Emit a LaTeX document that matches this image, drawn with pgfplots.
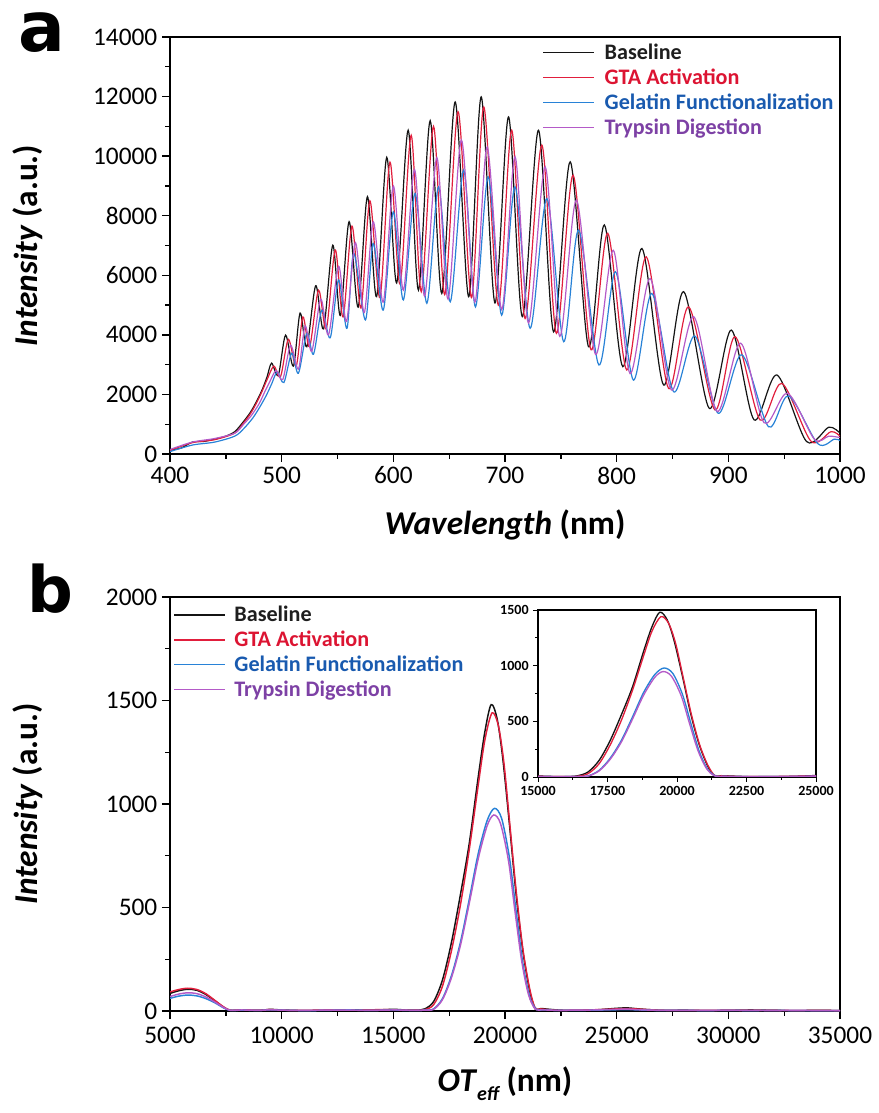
\documentclass[border=0pt]{standalone}
\usepackage{fontspec}
\setmainfont{Carlito}
\newfontfamily\panelfont{DejaVu Sans}
\usepackage{pgfplots}
\pgfplotsset{compat=1.18}
\usepackage{pgfplotstable}

\definecolor{cBase}{RGB}{20,20,20}
\definecolor{cGTA}{RGB}{225,30,60}
\definecolor{cGel}{RGB}{40,130,215}
\definecolor{cTry}{RGB}{180,90,200}
\definecolor{tBase}{RGB}{30,30,30}
\definecolor{tGTA}{RGB}{220,20,50}
\definecolor{tGel}{RGB}{25,90,175}
\definecolor{tTry}{RGB}{125,65,165}

% ---------- panel a : spectra ----------
\pgfplotstableread{
x y
400 130
410 200
420 400
430 420
440 500
450 600
458 750
465 1050
472 1400
478 1800
483 2200
487 2600
491 3050
497 2650
503.5 3990
510.5 2950
516.5 4730
522.5 3600
530.5 5650
537.5 4200
545.8 7010
552.5 4650
560.4 7800
568.5 4930
576.8 8640
585 5280
594.1 9960
603 5740
613.3 10870
622.5 5500
633 11190
643.4 5390
655.4 11820
667.5 5280
678.7 11990
691 5070
703.2 11320
715.5 4610
730 10870
743.5 4100
758.4 9810
774.8 3600
789 7690
805.5 2930
822.6 6900
842 2315
860 5450
883 1530
902.7 4160
923 1150
943.6 2650
970 420
990 900
1000 700
}\tblA

\pgfplotstableread{
x y
400 120
420 380
440 480
458 700
465 1000
472 1350
478 1750
483 2150
487 2500
493 2950
499 2600
506 3850
513 2950
519 4600
525 3600
533 5500
540 4200
548 6850
555 4600
563 7650
571 4900
579 8500
588 5250
597 9800
606 5700
616 10700
625 5450
636 11000
646 5350
658 11490
670 5250
681 11650
694 5000
706 10870
718 4550
733 10370
746 4050
761 9360
777 3500
792 7410
809 2820
826.5 6620
846.5 2200
864.5 4940
888 1480
906 3940
928.5 1140
948 2370
974 430
992 750
1000 600
}\tblB

\pgfplotstableread{
x y
400 80
420 300
440 400
458 600
466 850
474 1200
480 1550
486 1950
491 2350
496 2750
502 2400
509 3380
515 2710
522.5 4050
528.5 3350
536 4830
543.5 3900
551 5840
558.5 4220
564.5 6740
575 4500
582 7070
591 4830
600 8130
609 5170
619.5 8750
630 5060
640.5 8970
651 5110
663 9530
673.5 4940
685 9300
697 4660
709 8970
722.5 4220
737.5 8580
752.5 3770
766 7520
784 2990
799 6120
815 2480
831.5 5390
851 2090
870 3960
891 1365
912 3330
936 915
954 1950
980 350
995 500
1000 450
}\tblC

\pgfplotstableread{
x y
400 150
420 400
440 520
458 700
466 1000
473 1300
480 1700
485 2100
489 2400
495 2800
501 2500
508 3650
515 2850
521 4300
527 3450
535 5200
542 4000
551 6300
558 4450
566 7100
574 4750
582 7800
591 5100
600 9000
609 5500
619 9550
628 5300
639 9950
649 5200
661 10540
673 5100
684 10310
697 4850
709 9980
721 4400
736 9640
749 3950
764 8520
781 3350
797 6840
812 2700
830 5890
849 2150
869 4610
890 1430
911 3720
932 1050
953 2040
977 500
990 600
1000 550
}\tblD

% ---------- panel b : FFT ----------
\pgfplotstableread{
x y
5000 85
5400 98
5800 105
6200 100
6600 80
7000 50
7400 18
7700 3
8200 5
9000 3
9500 8
10000 5
11000 2
12000 4
13000 6
14000 4
15000 8
15500 5
16000 4
16400 10
16800 45
17200 150
17600 330
18000 560
18400 810
18800 1130
19100 1350
19380 1480
19650 1410
19900 1220
20200 900
20500 560
20800 290
21100 100
21350 10
21600 12
22000 8
22500 4
23000 3
24000 5
25000 13
25500 15
26000 10
27000 3
28000 4
29000 2
30000 3
31000 5
32000 3
33000 2
34000 3
35000 2
}\tbA

\pgfplotstableread{
x y
5000 92
5400 104
5800 110
6200 104
6600 84
7000 52
7400 20
7700 4
8200 6
9000 4
9500 7
10000 4
11000 3
12000 5
13000 4
14000 6
15000 6
15500 4
16000 5
16400 6
16800 30
17200 120
17600 290
18000 510
18400 780
18800 1090
19100 1310
19420 1440
19700 1380
19950 1200
20200 920
20500 580
20800 300
21100 110
21350 15
21600 10
22000 6
22500 3
23000 4
24000 6
25000 10
25500 12
26000 9
27000 4
28000 3
29000 3
30000 4
31000 3
32000 4
33000 2
34000 3
35000 2
}\tbB

\pgfplotstableread{
x y
5000 61
5400 72
5800 77
6200 73
6600 60
7000 40
7400 15
7700 3
8200 4
9000 3
9500 6
10000 4
11000 2
12000 3
13000 5
14000 3
15000 5
15500 3
16000 3
16400 4
16800 10
17200 60
17600 170
18000 330
18400 540
18800 760
19200 920
19530 979
19850 930
20200 740
20500 480
20800 230
21100 70
21400 8
21700 6
22000 4
22500 3
23000 3
24000 4
25000 6
25500 7
26000 5
27000 3
28000 3
29000 2
30000 3
31000 2
32000 3
33000 2
34000 2
35000 2
}\tbC

\pgfplotstableread{
x y
5000 70
5400 82
5800 88
6200 84
6600 68
7000 44
7400 17
7700 3
8200 5
9000 3
9500 6
10000 4
11000 3
12000 4
13000 4
14000 3
15000 5
15500 4
16000 3
16400 4
16800 8
17200 55
17600 160
18000 315
18400 520
18800 735
19200 895
19500 947
19800 905
20150 730
20450 480
20750 240
21050 80
21350 10
21700 6
22000 4
22500 3
23000 4
24000 5
25000 8
25500 9
26000 6
27000 3
28000 3
29000 3
30000 3
31000 3
32000 2
33000 3
34000 2
35000 2
}\tbD

\pgfplotsset{
  myaxis/.style={
    scale only axis,
    axis line style={line width=1.1pt},
    tick pos=left,
    tick align=outside,
    major tick length=6pt,
    minor tick length=3.5pt,
    every tick/.style={black, line width=1pt},
    scaled ticks=false,
    /pgf/number format/assume math mode=true,
    /pgf/number format/set thousands separator={},
    tick label style={font=\fontsize{19}{21}\selectfont},
    legend image code/.code={\draw[##1] (0pt,0pt) -- (38pt,0pt);},
    legend style={draw=none, fill=none, anchor=north west,
      font=\fontsize{16.6}{17}\selectfont\bfseries,
      row sep=1.5pt, column sep=5.5pt, inner sep=0pt, cells={anchor=west}},
  },
}

\begin{document}
\begin{tikzpicture}
\path[use as bounding box] (0,0) rectangle (658.5pt,834.75pt);

\node[font=\panelfont\bfseries\fontsize{52}{52}\selectfont, inner sep=0pt] at (31.5pt,810pt) {a};
\node[font=\panelfont\bfseries\fontsize{48}{48}\selectfont, inner sep=0pt] at (37.5pt,393pt) {b};

% panel a
\begin{axis}[myaxis,
  at={(127.5pt,494.25pt)}, anchor=south west,
  width=502.5pt, height=312.75pt,
  xmin=400, xmax=1000, ymin=0, ymax=14000,
  xtick={400,500,...,1000}, ytick={0,2000,...,14000},
  minor x tick num=1, minor y tick num=1,
  xlabel={\textbf{\textit{Wavelength}} \textbf{(nm)}},
  ylabel={\textbf{\textit{Intensity}} \textbf{(a.u.)}},
  xlabel style={font=\fontsize{25}{27}\selectfont, at={(axis description cs:0.5,-0.17)}, anchor=center},
  ylabel style={font=\fontsize{25}{27}\selectfont, at={(axis description cs:-0.212,0.5)}, anchor=center, rotate=0},
  legend style={at={(axis description cs:0.556,0.99)}},
]
\addplot[cBase, line width=0.9pt, smooth, tension=0.5] table {\tblA};
\addlegendentry{\textcolor{tBase}{Baseline}}
\addplot[cGTA, line width=0.9pt, smooth, tension=0.5] table {\tblB};
\addlegendentry{\textcolor{tGTA}{GTA Activation}}
\addplot[cGel, line width=0.9pt, smooth, tension=0.5] table {\tblC};
\addlegendentry{\textcolor{tGel}{Gelatin Functionalization}}
\addplot[cTry, line width=0.9pt, smooth, tension=0.5] table {\tblD};
\addlegendentry{\textcolor{tTry}{Trypsin Digestion}}
\end{axis}

% panel b
\begin{axis}[myaxis,
  at={(127.5pt,76.5pt)}, anchor=south west,
  width=502.5pt, height=310.5pt,
  xmin=5000, xmax=35000, ymin=0, ymax=2000,
  xtick={5000,10000,...,35000}, ytick={0,500,...,2000},
  minor x tick num=1, minor y tick num=1,
  xticklabel style={yshift=-2.5pt},
  xlabel={\textbf{\textit{OT}}\raisebox{-0.6ex}{\fontsize{15}{16}\selectfont\bfseries\itshape eff} \textbf{(nm)}},
  ylabel={\textbf{\textit{Intensity}} \textbf{(a.u.)}},
  xlabel style={font=\fontsize{25}{27}\selectfont, at={(axis description cs:0.5,-0.176)}, anchor=center},
  ylabel style={font=\fontsize{25}{27}\selectfont, at={(axis description cs:-0.212,0.5)}, anchor=center, rotate=0},
  legend style={at={(axis description cs:0.005,0.985)}, column sep=4.5pt},
]
\addplot[cBase, line width=1.1pt, smooth, tension=0.5] table {\tbA};
\addlegendentry{\textcolor{tBase}{Baseline}}
\addplot[cGTA, line width=1.1pt, smooth, tension=0.5] table {\tbB};
\addlegendentry{\textcolor{tGTA}{GTA Activation}}
\addplot[cGel, line width=1.1pt, smooth, tension=0.5] table {\tbC};
\addlegendentry{\textcolor{tGel}{Gelatin Functionalization}}
\addplot[cTry, line width=1.1pt, smooth, tension=0.5] table {\tbD};
\addlegendentry{\textcolor{tTry}{Trypsin Digestion}}
\end{axis}

% inset
\begin{axis}[myaxis,
  at={(403.5pt,252pt)}, anchor=south west,
  width=208.5pt, height=125.25pt,
  axis background/.style={fill=white},
  axis line style={line width=0.8pt},
  major tick length=3.5pt, minor tick length=2pt,
  every tick/.style={black, line width=0.6pt},
  xmin=15000, xmax=25000, ymin=0, ymax=1500,
  xtick={15000,17500,...,25000}, ytick={0,500,1000,1500},
  minor x tick num=1, minor y tick num=1,
  tick label style={font=\fontsize{10.5}{11}\selectfont\bfseries},
]
\addplot[cBase, line width=1pt, smooth, tension=0.5] table {\tbA};
\addplot[cGTA, line width=1pt, smooth, tension=0.5] table {\tbB};
\addplot[cGel, line width=1pt, smooth, tension=0.5] table {\tbC};
\addplot[cTry, line width=1pt, smooth, tension=0.5] table {\tbD};
\end{axis}
\end{tikzpicture}
\end{document}
